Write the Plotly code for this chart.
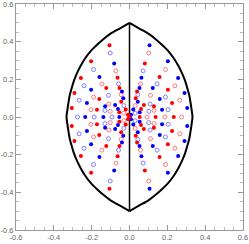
import plotly.graph_objects as go

# Boundary (right-upper quarter): x, y
edge_x = [0.0, 0.05, 0.102, 0.14, 0.17, 0.205, 0.234, 0.258, 0.278, 0.294, 0.306, 0.316, 0.322, 0.328, 0.333]
edge_y = [0.5, 0.471, 0.441, 0.412, 0.385, 0.35, 0.312, 0.272, 0.232, 0.192, 0.152, 0.115, 0.08, 0.04, 0.0]

# Points in the upper-left quarter (x<=0, y>=0); the plot is symmetric
# about the real axis, and mirrored across the imaginary axis with colours swapped
red_fill_x = [-0.106, -0.063, -0.053, -0.203, -0.123, -0.257, -0.160, -0.291, -0.172, -0.305, -0.044, -0.054, -0.020, -0.008, 0.0]
red_fill_y = [0.381, 0.209, 0.154, 0.296, 0.154, 0.207, 0.096, 0.128, 0.039, 0.048, 0.081, 0.025, 0.040, 0.012, 0.0]

blue_open_x = [-0.102, -0.058, -0.190, -0.111, -0.240, -0.266, -0.275, -0.187, -0.093, -0.130, -0.030]
blue_open_y = [0.340, 0.176, 0.252, 0.115, 0.166, 0.089, 0.0, 0.0, 0.0, 0.035, 0.060]

blue_fill_x = [-0.081, -0.159, -0.203, -0.225, -0.234, -0.138, -0.054, -0.129, -0.076, -0.061, -0.040, -0.033]
blue_fill_y = [0.284, 0.213, 0.145, 0.074, 0.0, 0.0, 0.0, 0.057, 0.064, 0.043, 0.135, 0.100]

red_open_x = [-0.072, -0.146, -0.190, -0.204, -0.044, -0.109, -0.102, -0.030]
red_open_y = [0.245, 0.176, 0.106, 0.039, 0.119, 0.069, 0.030, 0.020]

tick_vals = [-0.6, -0.4, -0.2, 0.0, 0.2, 0.4, 0.6]
tick_text = ["-0.6", "-0.4", "-0.2", "0.0", "0.2", "0.4", "0.6"]


def conj(xs, ys):
    ox, oy = list(xs), list(ys)
    for x, y in zip(xs, ys):
        if y > 0:
            ox.append(x)
            oy.append(-y)
    return ox, oy


def mirror(xs, ys):
    return [-x for x in xs], list(ys)


rfx, rfy = conj(red_fill_x, red_fill_y)
bfx, bfy = conj(blue_fill_x, blue_fill_y)
rox, roy = conj(red_open_x, red_open_y)
box, boy = conj(blue_open_x, blue_open_y)

# right half: colours swapped
mbx, mby = mirror(rfx, rfy)   # red filled -> blue filled
mrx, mry = mirror(bfx, bfy)   # blue filled -> red filled
mbox, mboy = mirror(rox, roy)  # red open -> blue open
mrox, mroy = mirror(box, boy)  # blue open -> red open

RED = "#ff0000"
BLUE = "#0000ff"
RED_L = "rgb(255,120,120)"
BLUE_L = "rgb(125,125,255)"

fig = go.Figure()

# boundary: right half (top -> bottom) and left half
rx = edge_x + [edge_x[i] for i in range(len(edge_x) - 2, -1, -1)]
ry = edge_y + [-edge_y[i] for i in range(len(edge_y) - 2, -1, -1)]
fig.add_trace(go.Scatter(x=rx, y=ry, mode="lines", line=dict(color="black", width=2, shape="spline", smoothing=0.8), hoverinfo="skip"))
fig.add_trace(go.Scatter(x=[-v for v in rx], y=ry, mode="lines", line=dict(color="black", width=2, shape="spline", smoothing=0.8), hoverinfo="skip"))
fig.add_trace(go.Scatter(x=[0, 0], y=[edge_y[0], -edge_y[0]], mode="lines", line=dict(color="black", width=1.5), hoverinfo="skip"))

fig.add_trace(go.Scatter(x=box + mbox, y=boy + mboy, mode="markers",
                         marker=dict(symbol="circle-open", size=4, color=BLUE_L, line=dict(width=1))))
fig.add_trace(go.Scatter(x=rox + mrox, y=roy + mroy, mode="markers",
                         marker=dict(symbol="circle-open", size=4, color=RED_L, line=dict(width=1))))
fig.add_trace(go.Scatter(x=bfx + mbx, y=bfy + mby, mode="markers",
                         marker=dict(symbol="circle", size=4, color=BLUE)))
fig.add_trace(go.Scatter(x=rfx + mrx, y=rfy + mry, mode="markers",
                         marker=dict(symbol="circle", size=4, color=RED)))

axis_common = dict(
    range=[-0.6, 0.6], tickvals=tick_vals, ticktext=tick_text,
    ticks="inside", ticklen=5, tickcolor="#999", tickwidth=1,
    showline=True, linecolor="#999", linewidth=1, mirror="allticks",
    showgrid=False, zeroline=False, automargin=False,
    ticklabeloverflow="allow",
    tickfont=dict(family="Liberation Sans", size=7.5, color="#666"),
    minor=dict(ticks="inside", ticklen=3, tickcolor="#bbb", dtick=0.05, showgrid=False),
)

fig.update_layout(
    width=249, height=244,
    margin=dict(l=16, r=6, t=4, b=14, pad=0),
    plot_bgcolor="white", paper_bgcolor="white",
    showlegend=False,
    xaxis=dict(axis_common, ticklabelstandoff=0),
    yaxis=dict(axis_common, ticklabelstandoff=0),
)

fig.write_html("out.html", config={"displayModeBar": False},
               post_script="document.body.style.margin='0';document.body.style.overflow='hidden';")
